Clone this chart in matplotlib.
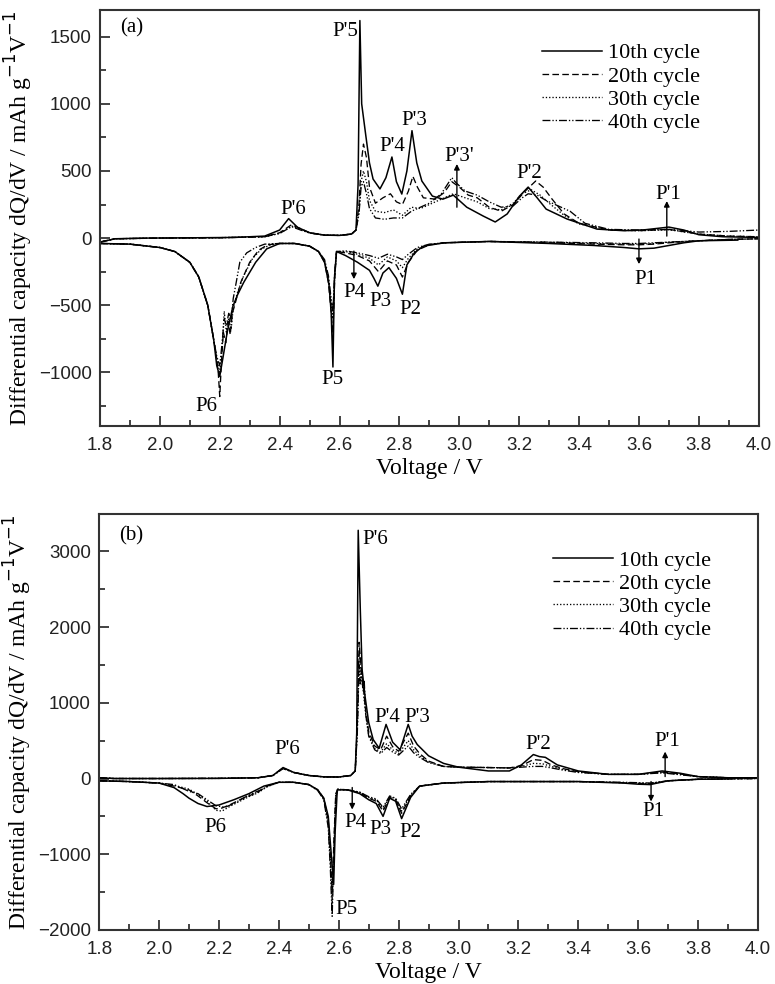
import matplotlib
matplotlib.use("Agg")
import matplotlib.pyplot as plt

# ---------------- data: panel (a) -----------------
cycles = ["10th cycle", "20th cycle", "30th cycle", "40th cycle"]

# charge branch (a)
a10c_v = [1.80, 1.85, 1.95, 2.10, 2.25, 2.35, 2.40, 2.43, 2.46, 2.50, 2.55, 2.60, 2.64, 2.655, 2.662, 2.668, 2.674, 2.688, 2.70, 2.712, 2.735, 2.755, 2.775, 2.79, 2.808, 2.825, 2.842, 2.858, 2.875, 2.91, 2.945, 2.98, 3.0, 3.025, 3.05, 3.08, 3.12, 3.16, 3.20, 3.23, 3.26, 3.29, 3.36, 3.46, 3.55, 3.62, 3.70, 3.75, 3.80, 3.88, 4.0]
a10c_q = [-30, -5, 0, 2, 5, 15, 60, 145, 80, 40, 22, 20, 30, 60, 400, 1620, 1000, 760, 560, 440, 366, 450, 604, 420, 328, 500, 800, 560, 425, 313, 290, 320, 280, 230, 200, 164, 120, 180, 310, 380, 300, 216, 142, 67, 55, 62, 82, 60, 25, 10, 5]
a20c_v = [1.80, 1.85, 2.0, 2.2, 2.35, 2.40, 2.44, 2.47, 2.50, 2.55, 2.60, 2.64, 2.655, 2.665, 2.672, 2.68, 2.69, 2.70, 2.72, 2.745, 2.77, 2.79, 2.81, 2.83, 2.845, 2.86, 2.88, 2.92, 2.95, 2.975, 3.0, 3.03, 3.06, 3.10, 3.14, 3.18, 3.22, 3.255, 3.28, 3.31, 3.35, 3.40, 3.50, 3.60, 3.70, 3.80, 3.90, 4.0]
a20c_q = [-30, -5, 0, 3, 10, 40, 100, 70, 40, 22, 20, 30, 60, 250, 550, 700, 600, 380, 260, 300, 330, 270, 250, 350, 460, 380, 300, 290, 340, 420, 380, 320, 300, 230, 200, 250, 350, 425, 380, 290, 180, 110, 60, 55, 65, 30, 15, 10]
a30c_v = [1.80, 1.85, 2.0, 2.2, 2.35, 2.40, 2.44, 2.47, 2.50, 2.55, 2.60, 2.64, 2.655, 2.665, 2.672, 2.68, 2.69, 2.70, 2.72, 2.75, 2.78, 2.81, 2.84, 2.87, 2.90, 2.94, 2.98, 3.02, 3.06, 3.10, 3.14, 3.18, 3.21, 3.24, 3.27, 3.30, 3.35, 3.40, 3.50, 3.60, 3.70, 3.80, 3.90, 4.0]
a30c_q = [-30, -5, 0, 3, 10, 35, 90, 65, 38, 22, 20, 30, 60, 200, 420, 500, 420, 280, 200, 190, 210, 170, 230, 220, 250, 290, 330, 300, 270, 220, 210, 260, 330, 360, 320, 260, 170, 105, 60, 55, 62, 30, 15, 10]
a40c_v = [1.80, 1.85, 2.0, 2.2, 2.35, 2.40, 2.44, 2.47, 2.50, 2.55, 2.60, 2.64, 2.655, 2.665, 2.672, 2.68, 2.69, 2.70, 2.72, 2.75, 2.78, 2.81, 2.84, 2.87, 2.90, 2.94, 2.975, 2.99, 3.02, 3.06, 3.10, 3.14, 3.18, 3.21, 3.23, 3.26, 3.29, 3.33, 3.37, 3.42, 3.50, 3.60, 3.70, 3.80, 3.90, 4.0]
a40c_q = [-30, -5, 0, 3, 10, 35, 85, 60, 38, 22, 20, 30, 60, 180, 380, 420, 330, 220, 150, 140, 150, 150, 200, 230, 260, 330, 450, 410, 350, 320, 270, 230, 240, 300, 330, 320, 280, 240, 200, 110, 65, 60, 65, 45, 50, 60]

# discharge branch (a)
a10d_v = [1.80, 1.90, 2.00, 2.05, 2.10, 2.13, 2.16, 2.18, 2.19, 2.20, 2.21, 2.225, 2.244, 2.26, 2.28, 2.32, 2.357, 2.40, 2.45, 2.50, 2.53, 2.55, 2.565, 2.572, 2.578, 2.583, 2.59, 2.62, 2.66, 2.70, 2.715, 2.728, 2.745, 2.765, 2.79, 2.81, 2.825, 2.85, 2.88, 2.95, 3.10, 3.30, 3.45, 3.55, 3.60, 3.65, 3.70, 3.75, 3.80, 3.93]
a10d_q = [-40, -45, -70, -100, -180, -290, -500, -760, -950, -1030, -900, -700, -507, -420, -330, -180, -80, -40, -40, -60, -100, -180, -350, -550, -960, -300, -100, -130, -180, -240, -300, -358, -260, -220, -300, -418, -200, -110, -60, -35, -25, -40, -55, -70, -80, -75, -55, -35, -20, -15]
a20d_v = [1.80, 1.90, 2.00, 2.05, 2.10, 2.13, 2.16, 2.18, 2.19, 2.195, 2.20, 2.205, 2.212, 2.22, 2.228, 2.235, 2.242, 2.25, 2.27, 2.30, 2.33, 2.36, 2.40, 2.45, 2.50, 2.53, 2.55, 2.563, 2.572, 2.578, 2.584, 2.59, 2.62, 2.66, 2.70, 2.73, 2.76, 2.79, 2.81, 2.83, 2.86, 2.90, 2.95, 3.10, 3.30, 3.45, 3.55, 3.60, 3.65, 3.70, 3.80, 3.90, 4.0]
a20d_q = [-40, -45, -70, -100, -180, -290, -500, -760, -900, -1000, -1180, -950, -700, -780, -620, -720, -560, -500, -330, -180, -90, -50, -40, -40, -60, -100, -180, -330, -550, -700, -300, -100, -110, -130, -170, -250, -170, -200, -290, -180, -90, -50, -35, -25, -35, -45, -50, -50, -45, -35, -20, -10, -5]
a30d_v = [1.80, 1.90, 2.00, 2.05, 2.10, 2.13, 2.16, 2.18, 2.19, 2.20, 2.207, 2.215, 2.222, 2.23, 2.238, 2.245, 2.26, 2.28, 2.31, 2.34, 2.37, 2.40, 2.45, 2.50, 2.53, 2.55, 2.563, 2.572, 2.578, 2.584, 2.59, 2.62, 2.66, 2.70, 2.73, 2.76, 2.79, 2.81, 2.83, 2.86, 2.90, 2.95, 3.10, 3.30, 3.45, 3.55, 3.60, 3.65, 3.70, 3.80, 3.90, 4.0]
a30d_q = [-40, -45, -70, -100, -180, -290, -500, -760, -900, -1000, -850, -545, -700, -600, -680, -520, -400, -280, -150, -80, -50, -40, -40, -60, -100, -170, -300, -480, -600, -280, -100, -100, -120, -150, -200, -140, -170, -220, -150, -80, -50, -35, -25, -30, -40, -45, -45, -40, -30, -20, -10, -5]
a40d_v = [1.80, 1.90, 2.00, 2.05, 2.10, 2.13, 2.16, 2.18, 2.19, 2.20, 2.207, 2.215, 2.222, 2.23, 2.238, 2.245, 2.255, 2.267, 2.29, 2.32, 2.35, 2.40, 2.45, 2.50, 2.53, 2.55, 2.563, 2.572, 2.578, 2.584, 2.59, 2.62, 2.66, 2.70, 2.73, 2.76, 2.79, 2.81, 2.83, 2.86, 2.90, 2.95, 3.10, 3.30, 3.45, 3.55, 3.60, 3.65, 3.70, 3.80, 3.90, 4.0]
a40d_q = [-40, -45, -70, -100, -180, -290, -500, -760, -880, -950, -800, -600, -650, -560, -620, -450, -330, -180, -110, -70, -45, -40, -40, -60, -100, -160, -280, -450, -550, -250, -100, -95, -110, -130, -150, -120, -140, -160, -120, -70, -45, -35, -25, -30, -35, -40, -40, -35, -30, -20, -10, -5]

# ---------------- data: panel (b) -----------------
b10c_v = [1.80, 1.85, 2.0, 2.2, 2.33, 2.38, 2.414, 2.45, 2.50, 2.55, 2.60, 2.64, 2.655, 2.660, 2.665, 2.672, 2.678, 2.688, 2.70, 2.715, 2.735, 2.758, 2.78, 2.805, 2.832, 2.845, 2.862, 2.90, 2.95, 3.0, 3.1, 3.17, 3.21, 3.25, 3.27, 3.29, 3.33, 3.40, 3.50, 3.60, 3.68, 3.74, 3.80, 3.90, 4.0]
b10c_q = [10, 0, 0, 2, 10, 40, 145, 80, 40, 22, 20, 40, 100, 600, 3280, 2230, 1440, 1080, 740, 515, 400, 715, 480, 380, 715, 560, 450, 300, 200, 150, 100, 100, 180, 317, 290, 280, 180, 100, 55, 55, 100, 70, 25, 10, 10]
b20c_v = [1.80, 1.85, 2.0, 2.2, 2.33, 2.38, 2.414, 2.45, 2.50, 2.55, 2.60, 2.64, 2.655, 2.662, 2.668, 2.675, 2.682, 2.69, 2.70, 2.72, 2.74, 2.76, 2.78, 2.80, 2.832, 2.85, 2.87, 2.90, 2.95, 3.0, 3.1, 3.17, 3.21, 3.25, 3.28, 3.31, 3.35, 3.40, 3.50, 3.60, 3.68, 3.74, 3.80, 3.90, 4.0]
b20c_q = [10, 0, 0, 2, 10, 40, 140, 80, 40, 22, 20, 40, 100, 700, 1800, 1450, 1200, 900, 620, 430, 380, 560, 420, 360, 600, 430, 330, 230, 160, 150, 145, 140, 170, 250, 240, 180, 130, 90, 55, 55, 85, 60, 25, 10, 10]
b30c_v = [1.80, 1.85, 2.0, 2.2, 2.33, 2.38, 2.414, 2.45, 2.50, 2.55, 2.60, 2.64, 2.655, 2.662, 2.668, 2.675, 2.682, 2.69, 2.70, 2.72, 2.74, 2.76, 2.78, 2.80, 2.832, 2.85, 2.87, 2.90, 2.95, 3.0, 3.1, 3.17, 3.21, 3.25, 3.28, 3.31, 3.35, 3.40, 3.50, 3.60, 3.68, 3.74, 3.80, 3.90, 4.0]
b30c_q = [10, 0, 0, 2, 10, 40, 135, 80, 40, 22, 20, 40, 100, 650, 1650, 1350, 1150, 850, 580, 400, 350, 460, 380, 330, 500, 380, 300, 220, 160, 150, 145, 140, 160, 200, 195, 160, 120, 85, 55, 55, 80, 55, 25, 10, 10]
b40c_v = [1.80, 1.85, 2.0, 2.2, 2.33, 2.38, 2.414, 2.45, 2.50, 2.55, 2.60, 2.64, 2.655, 2.662, 2.668, 2.672, 2.676, 2.680, 2.685, 2.69, 2.70, 2.72, 2.74, 2.76, 2.78, 2.80, 2.832, 2.85, 2.87, 2.90, 2.95, 3.0, 3.1, 3.17, 3.21, 3.25, 3.28, 3.31, 3.35, 3.40, 3.50, 3.60, 3.68, 3.74, 3.80, 3.90, 4.0]
b40c_q = [10, 0, 0, 2, 10, 40, 130, 80, 40, 22, 20, 40, 100, 600, 1500, 1250, 1450, 1200, 1300, 850, 560, 380, 330, 410, 350, 310, 430, 340, 280, 210, 160, 150, 145, 140, 150, 160, 160, 140, 110, 80, 55, 55, 75, 50, 25, 10, 10]

b10d_v = [1.80, 1.90, 2.00, 2.05, 2.08, 2.10, 2.13, 2.16, 2.20, 2.25, 2.30, 2.35, 2.40, 2.45, 2.50, 2.53, 2.55, 2.565, 2.575, 2.583, 2.588, 2.595, 2.63, 2.67, 2.70, 2.725, 2.748, 2.77, 2.79, 2.81, 2.84, 2.87, 2.95, 3.10, 3.40, 3.55, 3.60, 3.64, 3.70, 3.80, 3.90]
b10d_q = [-30, -40, -60, -120, -200, -260, -330, -370, -350, -280, -200, -100, -50, -50, -80, -150, -260, -500, -1000, -1400, -700, -150, -150, -200, -280, -330, -500, -260, -300, -530, -250, -100, -60, -40, -40, -60, -75, -80, -30, -10, -5]
b20d_v = [1.80, 1.90, 2.00, 2.05, 2.10, 2.13, 2.16, 2.19, 2.21, 2.24, 2.27, 2.30, 2.33, 2.36, 2.40, 2.45, 2.50, 2.53, 2.55, 2.565, 2.572, 2.578, 2.584, 2.59, 2.597, 2.63, 2.67, 2.70, 2.725, 2.748, 2.77, 2.79, 2.81, 2.84, 2.87, 2.95, 3.10, 3.40, 3.55, 3.60, 3.64, 3.70, 3.80, 3.90, 4.0]
b20d_q = [-30, -40, -60, -100, -150, -230, -320, -400, -390, -340, -280, -230, -180, -100, -50, -50, -80, -150, -260, -550, -1000, -1500, -800, -200, -140, -150, -190, -260, -300, -430, -250, -280, -460, -230, -100, -60, -40, -40, -55, -65, -70, -30, -10, -5, 0]
b30d_v = [1.80, 1.90, 2.00, 2.05, 2.10, 2.13, 2.16, 2.19, 2.21, 2.24, 2.27, 2.30, 2.33, 2.36, 2.40, 2.45, 2.50, 2.53, 2.55, 2.565, 2.572, 2.578, 2.584, 2.59, 2.597, 2.63, 2.67, 2.70, 2.725, 2.748, 2.77, 2.79, 2.81, 2.84, 2.87, 2.95, 3.10, 3.40, 3.55, 3.60, 3.64, 3.70, 3.80, 3.90, 4.0]
b30d_q = [-30, -40, -60, -90, -140, -210, -300, -420, -430, -360, -300, -240, -190, -110, -50, -50, -80, -150, -270, -600, -1100, -1650, -900, -220, -140, -150, -180, -250, -280, -400, -240, -270, -430, -220, -100, -60, -40, -40, -55, -60, -65, -30, -10, -5, 0]
b40d_v = [1.80, 1.90, 2.00, 2.05, 2.10, 2.13, 2.16, 2.19, 2.22, 2.25, 2.28, 2.31, 2.34, 2.37, 2.40, 2.45, 2.50, 2.53, 2.55, 2.565, 2.572, 2.578, 2.584, 2.59, 2.597, 2.63, 2.67, 2.70, 2.725, 2.748, 2.77, 2.79, 2.81, 2.84, 2.87, 2.95, 3.10, 3.40, 3.55, 3.60, 3.64, 3.70, 3.80, 3.90, 4.0]
b40d_q = [-30, -40, -60, -80, -170, -200, -280, -360, -380, -330, -260, -200, -150, -90, -50, -50, -80, -160, -280, -650, -1200, -1820, -1000, -250, -150, -150, -180, -240, -270, -380, -230, -260, -400, -210, -100, -60, -40, -40, -50, -55, -60, -30, -10, -5, 0]

# ---------------- styling -----------------
line_styles = ["-", (0, (5, 2.5)), (0, (1, 1.5)), (0, (6, 1.5, 1, 1.5, 1, 1.5))]
line_widths = [1.1, 0.95, 0.95, 0.95]
SERIF = ["Liberation Serif", "DejaVu Serif"]
SANS = ["Liberation Sans", "DejaVu Sans"]

fig = plt.figure(figsize=(7.75, 9.84), dpi=100)
ax_a = fig.add_axes([0.129, 0.567, 0.850, 0.423])
ax_b = fig.add_axes([0.128, 0.055, 0.850, 0.423])


def draw_panel(ax, chg, dis):
    for i, ((cv, cq), (dv, dq)) in enumerate(zip(chg, dis)):
        ax.plot(cv, cq, color="black", ls=line_styles[i], lw=line_widths[i], label=cycles[i])
        ax.plot(dv, dq, color="black", ls=line_styles[i], lw=line_widths[i])
    ax.set_xlim(1.8, 4.0)
    ax.set_xticks([1.8, 2.0, 2.2, 2.4, 2.6, 2.8, 3.0, 3.2, 3.4, 3.6, 3.8, 4.0])
    ax.set_xticks([1.9, 2.1, 2.3, 2.5, 2.7, 2.9, 3.1, 3.3, 3.5, 3.7, 3.9], minor=True)
    ax.tick_params(which="both", direction="in", top=False, right=False, width=1.2, colors="#222222")
    ax.tick_params(which="major", length=7, labelsize=13.5)
    ax.tick_params(axis="x", which="major", pad=8)
    ax.tick_params(axis="y", which="major", pad=6)
    ax.tick_params(which="minor", length=4)
    for lab in ax.get_xticklabels() + ax.get_yticklabels():
        lab.set_fontfamily(SANS)
        lab.set_color("#222222")
    for s in ax.spines.values():
        s.set_linewidth(1.5)
        s.set_color("#333333")
    ax.set_xlabel("Voltage / V", fontfamily=SERIF, fontsize=17, labelpad=3)
    ax.set_ylabel("Differential capacity dQ/dV / mAh g$^{-1}$V$^{-1}$", fontfamily=SERIF, fontsize=17, labelpad=3)
    ax.legend(loc="upper left", frameon=False, handlelength=2.7, handletextpad=0.27,
              labelspacing=0.12, borderpad=0, borderaxespad=0,
              prop={"family": SERIF, "size": 16})


def label(ax, x, y, s, ha="center"):
    ax.text(x, y, s, ha=ha, va="center", fontsize=15, fontfamily=SERIF)


def arrow(ax, x, y0, y1):
    ax.annotate("", xy=(x, y1), xytext=(x, y0),
                arrowprops=dict(arrowstyle="-|>", lw=1.0, color="black", mutation_scale=8, shrinkA=0, shrinkB=0))


# ---- panel (a)
draw_panel(ax_a,
           [(a10c_v, a10c_q), (a20c_v, a20c_q), (a30c_v, a30c_q), (a40c_v, a40c_q)],
           [(a10d_v, a10d_q), (a20d_v, a20d_q), (a30d_v, a30d_q), (a40d_v, a40d_q)])
ax_a.set_ylim(-1400, 1700)
ax_a.set_yticks([-1000, -500, 0, 500, 1000, 1500])
ax_a.set_yticks([-1250, -750, -250, 250, 750, 1250], minor=True)
ax_a.get_legend().set_bbox_to_anchor((0.671, 0.921))
ax_a.text(0.03, 0.957, "(a)", transform=ax_a.transAxes, fontsize=15, fontfamily=SERIF, va="center")
label(ax_a, 2.661, 1537, "P'5", ha="right")
label(ax_a, 2.775, 680, "P'4")
label(ax_a, 2.85, 873, "P'3")
label(ax_a, 3.0, 604, "P'3'")
label(ax_a, 3.235, 478, "P'2")
label(ax_a, 3.697, 328, "P'1")
label(ax_a, 2.445, 212, "P'6")
label(ax_a, 2.651, -403, "P4")
label(ax_a, 2.735, -470, "P3")
label(ax_a, 2.835, -530, "P2")
label(ax_a, 2.578, -1052, "P5")
label(ax_a, 2.157, -1254, "P6")
label(ax_a, 3.62, -306, "P1")
arrow(ax_a, 2.992, 230, 552)
arrow(ax_a, 3.693, 15, 276)
arrow(ax_a, 2.648, -97, -306)
arrow(ax_a, 3.60, -7, -194)

# ---- panel (b)
draw_panel(ax_b,
           [(b10c_v, b10c_q), (b20c_v, b20c_q), (b30c_v, b30c_q), (b40c_v, b40c_q)],
           [(b10d_v, b10d_q), (b20d_v, b20d_q), (b30d_v, b30d_q), (b40d_v, b40d_q)])
ax_b.set_ylim(-2000, 3500)
ax_b.set_yticks([-2000, -1000, 0, 1000, 2000, 3000])
ax_b.set_yticks([-1500, -500, 500, 1500, 2500], minor=True)
ax_b.get_legend().set_bbox_to_anchor((0.689, 0.912))
ax_b.text(0.03, 0.946, "(b)", transform=ax_b.transAxes, fontsize=15, fontfamily=SERIF, va="center")
label(ax_b, 2.678, 3157, "P'6", ha="left")
label(ax_b, 2.428, 383, "P'6")
label(ax_b, 2.762, 806, "P'4")
label(ax_b, 2.862, 806, "P'3")
label(ax_b, 3.266, 449, "P'2")
label(ax_b, 3.697, 489, "P'1")
label(ax_b, 3.65, -436, "P1")
label(ax_b, 2.187, -647, "P6")
label(ax_b, 2.655, -581, "P4")
label(ax_b, 2.738, -674, "P3")
label(ax_b, 2.838, -713, "P2")
label(ax_b, 2.588, -1730, "P5", ha="left")
arrow(ax_b, 3.69, 26, 356)
arrow(ax_b, 3.643, -40, -304)
arrow(ax_b, 2.645, -119, -410)

fig.savefig("out.png", dpi=100)
